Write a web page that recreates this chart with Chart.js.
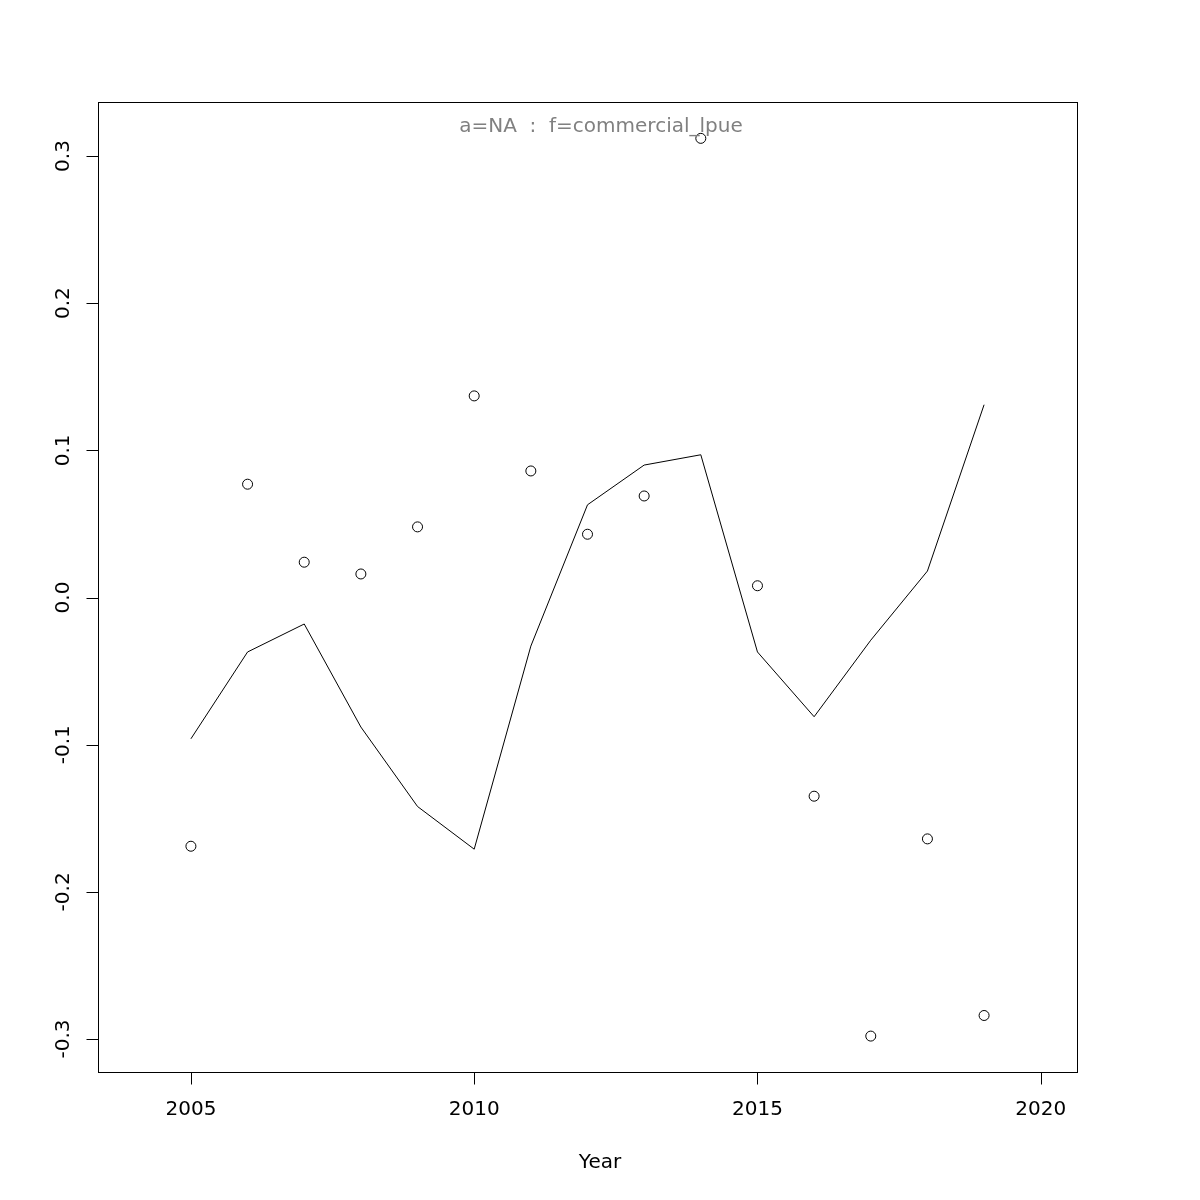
<!DOCTYPE html>
<html>
<head>
<meta charset="utf-8">
<script src="https://cdn.jsdelivr.net/npm/chart.js@4"></script>
<style>
  html, body { margin: 0; padding: 0; background: #fff; }
  #wrap { width: 1200px; height: 1200px; }
</style>
</head>
<body>
<div id="wrap"><canvas id="chart" width="1200" height="1200"></canvas></div>
<script>
// data
const years = [2005, 2006, 2007, 2008, 2009, 2010, 2011, 2012, 2013, 2014, 2015, 2016, 2017, 2018, 2019]
const observed = [-0.169, 0.077, 0.024, 0.016, 0.048, 0.137, 0.086, 0.043, 0.069, 0.312, 0.008, -0.135, -0.298, -0.164, -0.284]
const fitted = [-0.096, -0.037, -0.018, -0.088, -0.142, -0.171, -0.033, 0.063, 0.090, 0.097, -0.037, -0.081, -0.029, 0.018, 0.131]
const xTicks = [2005, 2010, 2015, 2020]
const yTicks = [-0.3, -0.2, -0.1, 0.0, 0.1, 0.2, 0.3]
const titleText = "a=NA  :  f=commercial_lpue"
const xLabel = "Year"

const font = "'DejaVu Sans', sans-serif"

// R style box, axes, tick labels and title
const rAxes = {
  id: "rAxes",
  afterDraw(chart) {
    const ctx = chart.ctx
    const area = chart.chartArea
    const xs = chart.scales.x
    const ys = chart.scales.y
    ctx.save()
    ctx.strokeStyle = "#000"
    ctx.lineWidth = 1
    ctx.strokeRect(Math.round(area.left) + 0.5, Math.round(area.top) + 0.5,
      Math.round(area.right - area.left), Math.round(area.bottom - area.top))

    // x axis
    const yb = Math.round(area.bottom) + 0.5
    ctx.beginPath()
    xTicks.forEach((t) => {
      const px = Math.round(xs.getPixelForValue(t)) + 0.5
      ctx.moveTo(px, yb)
      ctx.lineTo(px, yb + 12)
    })
    ctx.stroke()
    ctx.fillStyle = "#000"
    ctx.font = "20px " + font
    ctx.textAlign = "center"
    ctx.textBaseline = "middle"
    xTicks.forEach((t) => {
      ctx.fillText(String(t), xs.getPixelForValue(t), 1110)
    })
    ctx.fillText(xLabel, 600, 1163)

    // y axis
    const xl = Math.round(area.left) + 0.5
    ctx.beginPath()
    yTicks.forEach((t) => {
      const py = Math.round(ys.getPixelForValue(t)) + 0.5
      ctx.moveTo(xl, py)
      ctx.lineTo(xl - 12, py)
    })
    ctx.stroke()
    yTicks.forEach((t) => {
      const py = ys.getPixelForValue(t)
      ctx.save()
      ctx.translate(64, py)
      ctx.rotate(-Math.PI / 2)
      ctx.fillText(t.toFixed(1), 0, 0)
      ctx.restore()
    })

    // title inside plot
    ctx.fillStyle = "#808080"
    ctx.fillText(titleText, 601, 127)
    ctx.restore()
  }
}

new Chart(document.getElementById("chart"), {
  type: "scatter",
  data: {
    datasets: [
      {
        label: "observed",
        data: years.map((y, i) => ({ x: y, y: observed[i] })),
        showLine: false,
        pointRadius: 5,
        pointBorderWidth: 1,
        pointBorderColor: "#000",
        pointBackgroundColor: "rgba(0,0,0,0)",
      },
      {
        label: "fitted",
        data: years.map((y, i) => ({ x: y, y: fitted[i] })),
        showLine: true,
        borderColor: "#000",
        borderWidth: 1,
        pointRadius: 0,
        tension: 0,
        fill: false,
      },
    ],
  },
  options: {
    responsive: false,
    animation: false,
    layout: { padding: { left: 98, right: 123, top: 102, bottom: 128 } },
    plugins: { legend: { display: false }, tooltip: { enabled: false } },
    scales: {
      x: { type: "linear", display: false, min: 2003.36, max: 2020.64 },
      y: { type: "linear", display: false, min: -0.3224, max: 0.3367 },
    },
  },
  plugins: [rAxes],
})
</script>
</body>
</html>
